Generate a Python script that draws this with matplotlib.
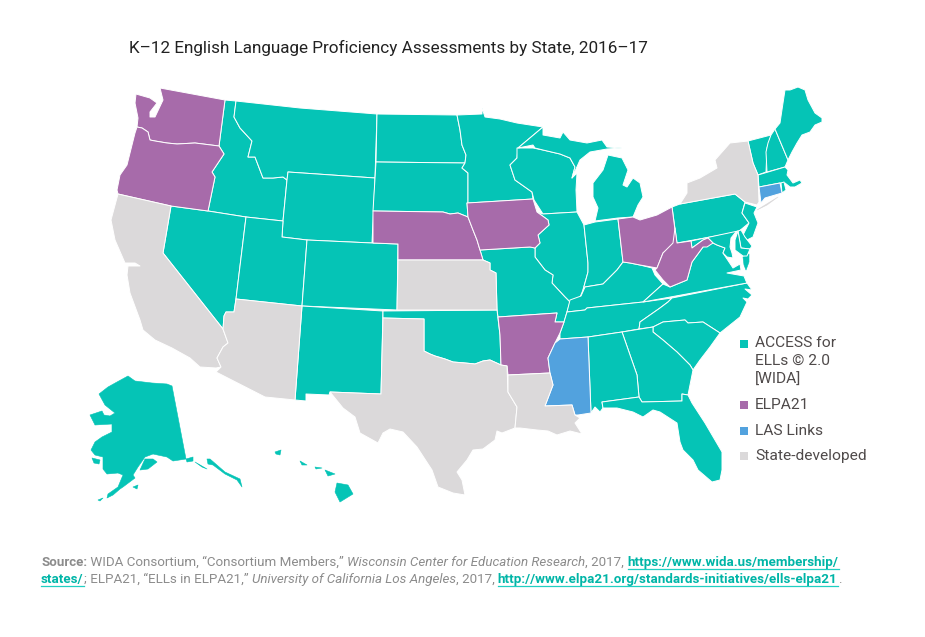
import matplotlib
matplotlib.use("Agg")
import matplotlib.pyplot as plt

TITLE = "K–12 English Language Proficiency Assessments by State, 2016–17"

ACCESS_COLOR = "#05C4B6"
ELPA_COLOR = "#A76BAA"
LAS_COLOR = "#52A2DE"
STATE_COLOR = "#DBD9DA"

LEGEND_LABELS = ["ACCESS for\nELLs © 2.0\n[WIDA]", "ELPA21", "LAS Links", "State-developed"]
LEGEND_COLORS = [ACCESS_COLOR, ELPA_COLOR, LAS_COLOR, STATE_COLOR]

ACCESS_STATES = ["ID", "MT", "WY", "ND", "SD", "MN", "WI", "MI", "MI2", "IL", "IN", "MO", "KY", "TN", "NC", "SC",
                 "GA", "AL", "FL", "VA", "VA2", "PA", "NJ", "DE", "MD", "MD2", "VT", "NH", "ME", "MA", "RI",
                 "NV", "UT", "CO", "NM", "OK", "AK", "AK2", "AK3", "AK4", "AK5", "AK6", "AK7", "AK8",
                 "HI", "HI2", "HI3", "HI4", "HI5"]
ELPA_STATES = ["WA", "OR", "NE", "IA", "AR", "OH", "WV"]
LAS_STATES = ["MS", "CT"]
DEVELOPED_STATES = ["CA", "AZ", "TX", "KS", "LA", "NY", "NY2"]

# these stand alone in the water, a white edge would only eat them
ISLANDS = ["AK", "AK2", "AK3", "AK4", "AK5", "AK6", "AK7", "AK8", "HI", "HI2", "HI3", "HI4", "HI5", "NY2", "VA2"]

# outlines, in image pixels
OUTLINES = {
    "WA": [(136, 94), (150, 98), (157, 103), (150, 112), (150, 117), (155, 117), (163, 100), (160, 88), (225, 100), (219, 146),
           (195, 143), (177, 144), (167, 143), (155, 141), (150, 140), (148, 132), (142, 128), (137, 127), (138, 118), (135, 103)],
    "OR": [(137, 127), (142, 128), (148, 132), (150, 140), (155, 141), (167, 143), (177, 144), (195, 143), (219, 146),
           (224, 154), (212, 172), (215, 177), (208, 211), (171, 206), (118, 194), (117, 190), (120, 175), (127, 165), (135, 133)],
    "ID": [(225, 100), (236, 101), (234, 117), (240, 128), (252, 141), (248, 157), (255, 157), (263, 178), (273, 178),
           (283, 177), (287, 180), (283, 221), (246, 217), (208, 211), (215, 177), (212, 172), (224, 154), (219, 146)],
    "MT": [(236, 101), (300, 108), (377, 114), (375, 178), (288, 172), (287, 180), (283, 177), (273, 178), (263, 178),
           (255, 157), (248, 157), (252, 141), (240, 128), (234, 117)],
    "WY": [(288, 172), (375, 178), (372, 243), (307, 240), (282, 237), (283, 221), (287, 180)],
    "ND": [(377, 114), (457, 115), (460, 130), (462, 145), (466, 155), (465, 163), (376, 162)],
    "SD": [(376, 162), (465, 163), (462, 168), (468, 173), (468, 203), (467, 203), (468, 217), (458, 213), (450, 214),
           (443, 212), (373, 211)],
    "NE": [(373, 211), (443, 212), (450, 214), (458, 213), (468, 217), (473, 230), (477, 240), (480, 250), (483, 260),
           (398, 260), (398, 244), (373, 243)],
    "CO": [(307, 240), (372, 243), (398, 244), (397, 310), (302, 306)],
    "UT": [(246, 217), (283, 221), (282, 237), (307, 240), (302, 306), (236, 299)],
    "NV": [(171, 206), (208, 211), (246, 217), (236, 299), (234, 312), (226, 312), (224, 316), (223, 329), (163, 253)],
    "AZ": [(236, 299), (302, 306), (295, 400), (265, 397), (216, 372), (221, 367), (217, 358), (223, 347), (228, 343),
           (223, 329), (224, 316), (226, 312), (234, 312)],
    "CA": [(118, 194), (171, 206), (163, 253), (223, 329), (228, 343), (223, 347), (217, 358), (221, 367), (216, 368),
           (200, 367), (190, 358), (172, 348), (155, 340), (143, 330), (140, 320), (130, 293), (127, 275), (128, 266),
           (140, 266), (135, 263), (125, 263), (115, 240), (111, 220)],
    "NM": [(302, 306), (383, 311), (381, 394), (330, 392), (329, 395), (306, 394), (306, 401), (295, 400)],
    "OK": [(383, 311), (497, 310), (500, 335), (501, 365), (490, 360), (483, 361), (475, 364), (465, 363), (453, 362),
           (445, 359), (435, 356), (430, 354), (424, 351), (424, 319), (383, 318)],
    "KS": [(398, 260), (483, 260), (490, 263), (490, 270), (496, 273), (497, 310), (397, 310)],
    "TX": [(383, 318), (424, 319), (424, 351), (430, 354), (435, 356), (445, 359), (453, 362), (465, 363), (475, 364),
           (483, 361), (490, 360), (501, 365), (507, 366), (508, 392), (517, 407), (515, 428), (502, 433), (497, 431),
           (495, 440), (483, 449), (473, 450), (467, 460), (457, 472), (462, 480), (465, 495), (453, 493), (438, 487),
           (432, 470), (417, 447), (403, 432), (390, 429), (383, 433), (378, 443), (360, 433), (355, 417), (343, 408),
           (330, 392), (381, 394)],
    "AR": [(498, 317), (557, 313), (555, 322), (564, 322), (560, 333), (555, 343), (548, 358), (550, 373), (508, 375),
           (507, 366), (501, 365), (500, 335)],
    "LA": [(508, 375), (550, 373), (553, 385), (545, 406), (572, 405), (575, 415), (580, 418), (575, 423), (582, 434),
           (570, 431), (557, 435), (548, 431), (537, 430), (520, 428), (515, 428), (517, 407), (508, 392)],
    "MS": [(560, 339), (588, 337), (591, 413), (578, 415), (575, 415), (572, 405), (545, 406), (553, 385), (550, 373),
           (548, 358), (555, 343)],
    "AL": [(588, 337), (622, 332), (637, 375), (639, 397), (602, 402), (603, 408), (600, 412), (595, 407), (591, 413)],
    "GA": [(622, 332), (653, 327), (653, 332), (663, 340), (677, 352), (690, 365), (693, 370), (692, 375), (688, 395),
           (682, 394), (682, 401), (642, 402), (639, 397), (637, 375)],
    "FL": [(602, 402), (639, 397), (642, 402), (682, 401), (682, 394), (688, 395), (692, 403), (705, 423), (722, 452),
           (722, 470), (720, 480), (712, 482), (698, 470), (693, 460), (683, 450), (680, 442), (677, 423), (660, 412),
           (653, 410), (643, 417), (633, 412), (617, 408), (603, 408)],
    "SC": [(653, 327), (663, 322), (685, 320), (688, 323), (703, 322), (720, 333), (710, 347), (700, 360), (693, 370),
           (690, 365), (677, 352), (663, 340), (653, 332)],
    "NC": [(639, 329), (640, 322), (650, 315), (660, 308), (668, 302), (672, 298), (747, 283), (752, 290), (745, 289),
           (752, 295), (748, 299), (743, 298), (747, 302), (740, 317), (720, 333), (703, 322), (688, 323), (685, 320),
           (663, 322), (653, 327)],
    "TN": [(567, 312), (585, 310), (587, 308), (643, 302), (672, 298), (668, 302), (660, 308), (650, 315), (640, 322),
           (639, 329), (622, 332), (588, 337), (560, 339), (560, 333), (564, 322)],
    "KY": [(570, 300), (581, 296), (585, 287), (603, 284), (617, 270), (623, 262), (630, 263), (640, 265), (652, 268),
           (655, 275), (663, 284), (653, 293), (643, 302), (587, 308), (585, 310), (567, 312)],
    "VA": [(643, 302), (653, 293), (663, 284), (670, 287), (687, 280), (692, 262), (703, 247), (707, 240), (713, 243),
           (717, 245), (725, 248), (723, 253), (733, 268), (740, 264), (741, 270), (727, 273), (744, 276), (746, 281), (747, 283)],
    "VA2": [(743, 257), (749, 254), (749, 262), (746, 270), (744, 265)],
    "WV": [(655, 270), (657, 268), (663, 253), (673, 243), (675, 228), (677, 243), (691, 241), (692, 248), (703, 240),
           (708, 238), (713, 243), (707, 247), (703, 247), (692, 262), (687, 280), (670, 287), (663, 280)],
    "OH": [(618, 219), (633, 217), (640, 220), (657, 215), (672, 207), (675, 230), (675, 243), (663, 253), (657, 268),
           (640, 265), (630, 263), (623, 262)],
    "PA": [(672, 207), (680, 204), (735, 194), (745, 202), (742, 213), (749, 223), (738, 232), (677, 243)],
    "NY": [(680, 204), (687, 193), (687, 183), (700, 178), (717, 168), (715, 160), (730, 143), (748, 141), (753, 163),
           (758, 175), (759, 202), (757, 205), (745, 202), (735, 194)],
    "NY2": [(757, 210), (778, 197), (767, 205)],
    "NJ": [(745, 203), (757, 207), (754, 213), (758, 223), (753, 237), (747, 240), (743, 235), (749, 223), (742, 213)],
    "CT": [(759, 187), (780, 183), (782, 193), (765, 198), (761, 203)],
    "RI": [(781, 183), (784, 182), (786, 190), (782, 193)],
    "MA": [(758, 175), (785, 167), (788, 170), (787, 175), (793, 183), (800, 180), (802, 183), (795, 187), (790, 187),
           (785, 183), (780, 183), (759, 187)],
    "VT": [(748, 141), (771, 135), (770, 140), (767, 148), (766, 172), (758, 175), (753, 163)],
    "NH": [(771, 135), (775, 129), (788, 160), (785, 167), (767, 172), (766, 152), (768, 143)],
    "ME": [(775, 129), (780, 123), (783, 103), (785, 90), (790, 90), (798, 87), (805, 90), (808, 100), (815, 113),
           (822, 118), (822, 122), (815, 125), (810, 132), (802, 135), (797, 143), (792, 152), (788, 160)],
    "MI": [(595, 221), (618, 218), (633, 217), (638, 205), (643, 197), (640, 183), (633, 178), (627, 187), (623, 185),
           (628, 170), (622, 158), (608, 155), (603, 170), (593, 183), (593, 197), (598, 208)],
    "MI2": [(518, 148), (543, 127), (543, 135), (560, 138), (563, 132), (570, 140), (587, 143), (602, 140), (607, 147),
            (622, 148), (607, 149), (590, 152), (580, 160), (572, 178), (575, 167), (570, 158), (560, 154), (543, 150),
            (535, 148), (533, 145)],
    "WI": [(517, 148), (533, 148), (543, 150), (560, 154), (570, 158), (575, 167), (572, 178), (577, 173), (576, 190),
           (577, 212), (543, 214), (534, 200), (532, 192), (515, 180), (510, 165), (517, 158)],
    "MN": [(457, 115), (482, 114), (482, 108), (485, 117), (500, 119), (517, 123), (543, 127), (518, 148), (517, 158),
           (510, 165), (515, 180), (532, 192), (533, 199), (468, 203), (468, 173), (462, 168), (465, 163), (466, 155),
           (462, 145), (460, 130)],
    "IA": [(467, 203), (533, 199), (537, 212), (548, 220), (549, 225), (538, 235), (540, 243), (535, 248), (530, 247),
           (480, 250), (477, 240), (473, 230), (468, 217)],
    "IL": [(543, 214), (577, 212), (584, 225), (588, 263), (588, 272), (583, 290), (578, 302), (570, 302), (565, 297),
           (552, 283), (553, 275), (545, 270), (535, 257), (535, 248), (540, 243), (538, 235), (549, 225), (548, 220), (537, 212)],
    "IN": [(584, 225), (595, 222), (618, 219), (623, 262), (617, 270), (603, 284), (585, 287), (583, 290), (588, 272), (588, 263)],
    "MO": [(480, 250), (530, 247), (535, 248), (535, 257), (545, 270), (553, 275), (552, 283), (565, 297), (570, 302),
           (567, 312), (564, 322), (555, 322), (557, 313), (498, 317), (497, 310), (496, 273), (490, 270), (490, 263), (483, 260)],
    "MD": [(691, 241), (738, 231), (735, 233), (731, 238), (730, 247), (732, 253), (733, 258), (727, 257), (723, 253),
           (725, 248), (717, 245), (713, 243), (708, 238), (703, 240), (692, 248)],
    "MD2": [(738, 231), (741, 248), (750, 249), (747, 256), (743, 256), (735, 250), (735, 240)],
    "DE": [(738, 231), (741, 230), (745, 237), (752, 246), (750, 249), (741, 248)],
    "AK": [(99, 394), (108, 387), (117, 382), (128, 376), (135, 381), (152, 383), (167, 384), (172, 386), (186, 459),
           (173, 461), (167, 457), (153, 454), (145, 457), (138, 467), (133, 475), (135, 478), (123, 487), (120, 489),
           (113, 495), (107, 498), (108, 494), (118, 487), (123, 475), (118, 473), (107, 474), (103, 469), (103, 457),
           (95, 455), (91, 450), (95, 442), (102, 437), (112, 432), (112, 424), (95, 425), (90, 415), (102, 411),
           (104, 415), (110, 416), (115, 413), (105, 405)],
    "AK2": [(140, 470), (145, 459), (153, 459), (157, 462), (148, 469)],
    "AK3": [(186, 459), (193, 457), (193, 461), (187, 462)],
    "AK4": [(195, 462), (207, 469), (202, 467)],
    "AK5": [(207, 459), (210, 459), (225, 472), (240, 479), (242, 487), (237, 480), (225, 474), (213, 465), (208, 464)],
    "AK6": [(133, 487), (138, 485), (137, 489)],
    "AK7": [(98, 500), (103, 498), (100, 501)],
    "AK8": [(92, 458), (100, 460), (99, 464), (94, 463)],
    "HI": [(337, 483), (348, 485), (353, 494), (340, 502), (335, 492)],
    "HI2": [(325, 470), (335, 474), (328, 476)],
    "HI3": [(300, 461), (307, 465), (302, 465)],
    "HI4": [(275, 452), (281, 450), (280, 455), (276, 454)],
    "HI5": [(315, 467), (322, 468), (316, 469)],
}

# (text, weight, style, link)
SOURCE_LINE_1 = [
    ("Source:", "bold", "normal", False),
    (" WIDA Consortium, “Consortium Members,” ", "normal", "normal", False),
    ("Wisconsin Center for Education Research", "normal", "italic", False),
    (", 2017, ", "normal", "normal", False),
    ("https://www.wida.us/membership/", "bold", "normal", True),
]
SOURCE_LINE_2 = [
    ("states/", "bold", "normal", True),
    ("; ELPA21, “ELLs in ELPA21,” ", "normal", "normal", False),
    ("University of California Los Angeles", "normal", "italic", False),
    (", 2017, ", "normal", "normal", False),
    ("http://www.elpa21.org/standards-initiatives/ells-elpa21", "bold", "normal", True),
    (".", "normal", "normal", False),
]

plt.rcParams["font.family"] = ["Roboto", "DejaVu Sans"]

fig = plt.figure(figsize=(9.25, 6.37), dpi=100)
ax = fig.add_axes([0, 0, 1, 1])
ax.set_xlim(0, 925)
ax.set_ylim(637, 0)
ax.axis("off")

for names, color in [(ACCESS_STATES, ACCESS_COLOR), (ELPA_STATES, ELPA_COLOR),
                     (LAS_STATES, LAS_COLOR), (DEVELOPED_STATES, STATE_COLOR)]:
    for name in names:
        xs, ys = zip(*OUTLINES[name])
        edge = color if name in ISLANDS else "white"
        width = 0.4 if name in ISLANDS else 0.7
        ax.fill(xs, ys, facecolor=color, edgecolor=edge, linewidth=width, joinstyle="round")

ax.text(129, 48, TITLE, fontsize=12.35, color="#222222", va="center", ha="left")

legend_y = [344, 405, 431, 456]
for label, color, y in zip(LEGEND_LABELS, LEGEND_COLORS, legend_y):
    ax.scatter([744], [y], marker="s", s=32, color=color, linewidths=0)
    if "\n" in label:
        ax.text(755, y - 8, label, fontsize=11.15, color="#4F4A4A", va="top", ha="left", linespacing=1.38)
    else:
        ax.text(755, y, label, fontsize=11.15, color="#4F4A4A", va="center", ha="left")


def draw_runs(runs, x, y):
    renderer = fig.canvas.get_renderer()
    for txt, weight, style, link in runs:
        color = "#00B5A7" if link else "#8C8C8C"
        t = ax.text(x, y, txt, fontsize=9.65, fontweight=weight, fontstyle=style, color=color,
                    va="baseline", ha="left")
        width = t.get_window_extent(renderer).width
        if link:
            ax.plot([x, x + width], [y + 3, y + 3], color="#20CFC2", linewidth=0.9)
        x += width


draw_runs(SOURCE_LINE_1, 41, 566)
draw_runs(SOURCE_LINE_2, 41, 583)

fig.savefig("out.png", dpi=100)
